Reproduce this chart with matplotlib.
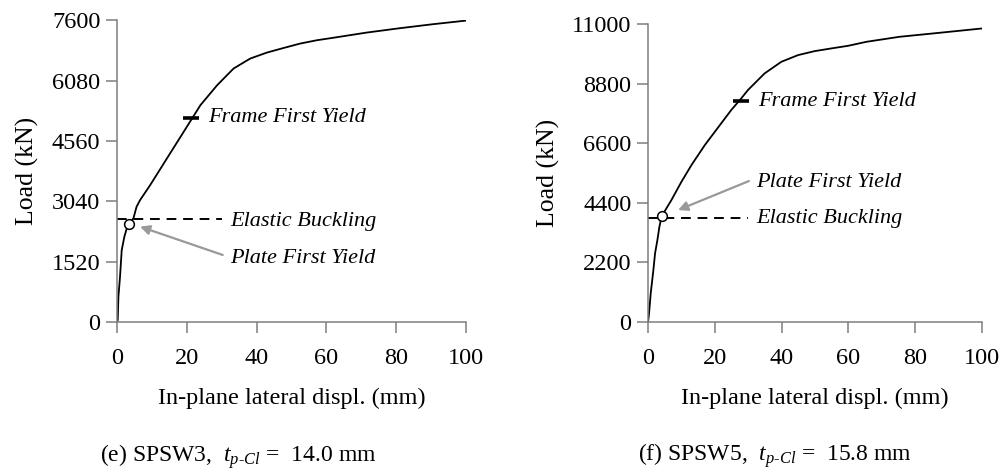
import matplotlib
matplotlib.use("Agg")
import matplotlib.pyplot as plt

# ==========================
# DATA
# ==========================

# SPSW3 (e)
disp_e = [0, 0.2, 0.4, 0.86, 1.35, 2.1, 2.8, 3.44, 4.7, 5.6, 6.6, 9.5, 14.3, 19.1,
          21.5, 23.9, 28.7, 33.4, 38.2, 43.0, 47.8, 52.5, 57.3, 62.0, 71.5, 81.0,
          90.5, 100]
load_e = [0, 50, 637, 1140, 1812, 2147, 2358, 2467, 2610, 2902, 3070, 3448, 4120,
          4790, 5126, 5462, 5965, 6385, 6637, 6788, 6904, 7014, 7098, 7160, 7290,
          7400, 7501, 7592]
yticks_e = [0, 1520, 3040, 4560, 6080, 7600]
buckling_e = 2590
plate_yield_e = (3.44, 2467)
frame_yield_e = (21.2, 5140)

# SPSW5 (f)
disp_f = [0, 0.3, 0.8, 1.6, 2.1, 2.8, 3.4, 4.1, 5.5, 7.0, 10.0, 13.0, 17.0, 20.0,
          24.9, 27.9, 29.9, 34.9, 39.9, 44.9, 49.9, 54.9, 59.9, 65.4, 75.3, 85.3, 100]
load_f = [0, 320, 1058, 1919, 2535, 3026, 3517, 3911, 4195, 4502, 5177, 5793,
          6531, 7022, 7823, 8254, 8561, 9177, 9605, 9852, 10000, 10100, 10196,
          10344, 10529, 10652, 10836]
yticks_f = [0, 2200, 4400, 6600, 8800, 11000]
buckling_f = 3830
plate_yield_f = (4.1, 3911)
frame_yield_f = (27.9, 8155)

xticks = [0, 20, 40, 60, 80, 100]
buckling_len = 30

# ==========================
# STYLE
# ==========================

plt.rcParams["font.family"] = ["Liberation Serif", "DejaVu Serif"]
plt.rcParams["mathtext.fontset"] = "custom"
plt.rcParams["mathtext.rm"] = "Liberation Serif"
plt.rcParams["mathtext.it"] = "Liberation Serif:italic"

SPINE = "#7f7f7f"
ARROW = "#999999"

fig = plt.figure(figsize=(10.01, 4.74), dpi=100)
ax_e = fig.add_axes([0.1169, 0.3207, 0.3486, 0.6365])
ax_f = fig.add_axes([0.6474, 0.3207, 0.3336, 0.6286])


def draw_panel(ax, disp, load, yticks, buck, plate, frame,
               plate_xy, elastic_xy, frame_xy, arrow_tail, arrow_head,
               caption, cap_x):
    ax.plot(disp, load, color="black", lw=1.3)
    ax.plot([0, buckling_len], [buck, buck], color="black", lw=1.4,
            dashes=(5, 3.5))
    ax.plot(*plate, marker="o", ms=7, mfc="white", mec="black", mew=1.1)
    ax.plot(*frame, marker="_", ms=12, mew=2.6, color="black")

    ax.annotate("", xy=arrow_head, xytext=arrow_tail,
                arrowprops=dict(arrowstyle="-|>", color=ARROW, lw=1.6,
                                mutation_scale=14, shrinkA=0, shrinkB=0))

    txt = dict(fontsize=16, style="italic", va="center", ha="left")
    ax.text(*frame_xy, "Frame First Yield", **txt)
    ax.text(*plate_xy, "Plate First Yield", **txt)
    ax.text(*elastic_xy, "Elastic Buckling", **txt)

    ax.set_xlim(0, 100)
    ax.set_ylim(0, yticks[-1])
    ax.set_xticks(xticks)
    ax.set_yticks(yticks)
    ax.spines["top"].set_visible(False)
    ax.spines["right"].set_visible(False)
    for s in ("left", "bottom"):
        ax.spines[s].set_color(SPINE)
        ax.spines[s].set_linewidth(1.1)
    ax.tick_params(axis="x", direction="out", length=8, width=1.1,
                   color=SPINE, labelsize=17.5, pad=11)
    ax.tick_params(axis="y", direction="out", length=8, width=1.1,
                   color=SPINE, labelsize=17.5, pad=4)

    ax.set_xlabel("In-plane lateral displ. (mm)", fontsize=17.5, labelpad=13)
    ax.set_ylabel("Load (kN)", fontsize=18.5, labelpad=9)
    ax.text(cap_x, -0.40, caption, transform=ax.transAxes, ha="center",
            va="top", fontsize=17)


draw_panel(ax_e, disp_e, load_e, yticks_e, buckling_e, plate_yield_e, frame_yield_e,
           plate_xy=(32.4, 1604), elastic_xy=(32.4, 2528), frame_xy=(26.2, 5140),
           arrow_tail=(30.3, 1688), arrow_head=(6.6, 2402),
           caption=r"(e) SPSW3,  $t_{p\text{-}Cl}$ =  14.0 mm", cap_x=0.347)

draw_panel(ax_f, disp_f, load_f, yticks_f, buckling_f, plate_yield_f, frame_yield_f,
           plate_xy=(32.4, 5141), elastic_xy=(32.4, 3825), frame_xy=(32.9, 8155),
           arrow_tail=(30.2, 5203), arrow_head=(9.0, 4133),
           caption=r"(f) SPSW5,  $t_{p\text{-}Cl}$ =  15.8 mm", cap_x=0.38)

plt.savefig("out.png", dpi=100)
plt.close()
